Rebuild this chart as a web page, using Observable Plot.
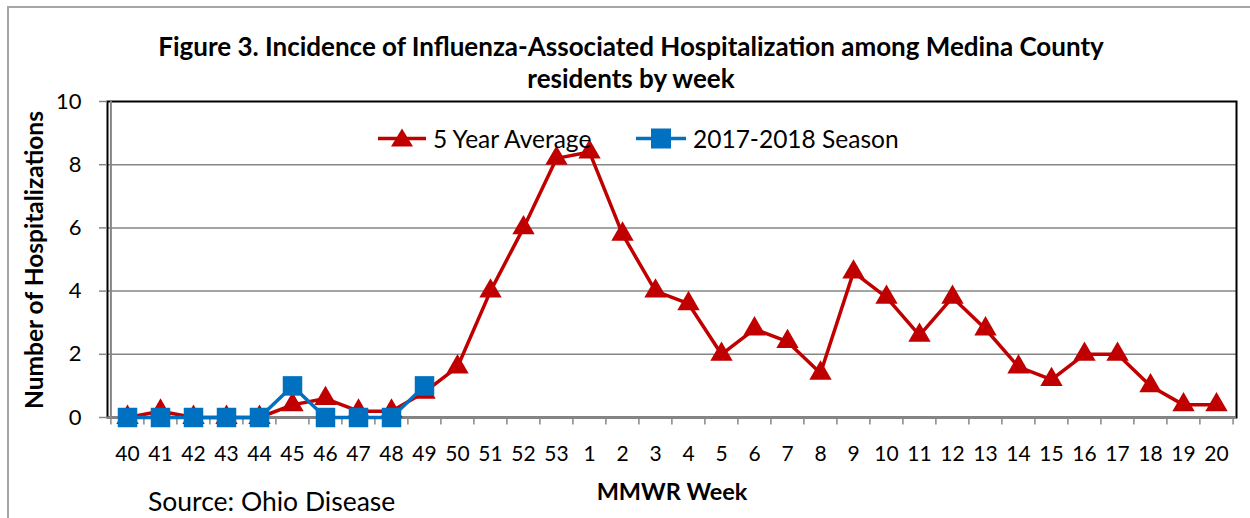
<!DOCTYPE html>
<html>
<head>
<meta charset="utf-8">
<script src="https://cdn.jsdelivr.net/npm/d3@7"></script>
<script src="https://cdn.jsdelivr.net/npm/@observablehq/plot@0.6"></script>
<style>
  html, body { margin: 0; padding: 0; background: #fff; overflow: hidden; }
  #wrap { position: relative; width: 1250px; height: 518px; font-family: Lato, "Open Sans", sans-serif; color: #000; }
  #border { position: absolute; left: 7px; top: 6px; width: 1260px; height: 530px; border: 2px solid #A6A6A6; box-sizing: border-box; }
  .lbl { position: absolute; white-space: nowrap; transform: translate(-50%, -50%); }
  #title { font-weight: 700; font-size: 26px; line-height: 32px; text-align: center; }
  #ylab { font-weight: 700; font-size: 24.5px; transform: translate(-50%, -50%) rotate(-90deg); }
  #xlab { font-weight: 700; font-size: 23.5px; }
  #source { font-size: 26.5px; transform: translate(0, -50%); }
  .leg { position: absolute; display: flex; align-items: center; font-size: 24.5px; transform: translate(0, -50%); white-space: nowrap; }
  .leg svg { margin-right: 7px; }
  #chart { position: absolute; left: 0; top: 0; }
</style>
</head>
<body>
<div id="wrap">
  <div id="border"></div>
  <div id="chart"></div>
  <div id="title" class="lbl" style="left:631px; top:62px;">Figure 3. Incidence of Influenza-Associated Hospitalization among Medina County<br>residents by week</div>
  <div id="ylab" class="lbl" style="left:33px; top:260px;">Number of Hospitalizations</div>
  <div id="xlab" class="lbl" style="left:672px; top:491px;">MMWR Week</div>
  <div id="source" class="lbl" style="left:148px; top:501px;">Source: Ohio Disease</div>
  <div class="leg" style="left:378px; top:138px;">
    <svg width="48" height="24"><line x1="0" y1="12" x2="48" y2="12" stroke="#C00000" stroke-width="3.5"/><path d="M24,2 L35,20 L13,20 Z" fill="#C00000"/></svg>
    <span>5 Year Average</span>
  </div>
  <div class="leg" style="left:636px; top:138px;">
    <svg width="50" height="24"><line x1="0" y1="12" x2="50" y2="12" stroke="#0070C0" stroke-width="3.5"/><rect x="15" y="2" width="20" height="20" fill="#0070C0"/></svg>
    <span>2017-2018 Season</span>
  </div>
</div>
<script>
// Data
const weeks = ["40","41","42","43","44","45","46","47","48","49","50","51","52","53",
  "1","2","3","4","5","6","7","8","9","10","11","12","13","14","15","16","17","18","19","20"];
const fiveYearAvg = [0, 0.2, 0, 0, 0, 0.4, 0.6, 0.2, 0.2, 0.8, 1.6, 4.0, 6.0, 8.2,
  8.4, 5.8, 4.0, 3.6, 2.0, 2.8, 2.4, 1.4, 4.6, 3.8, 2.6, 3.8, 2.8, 1.6, 1.2, 2.0, 2.0, 1.0, 0.4, 0.4];
const season2017Weeks = ["40","41","42","43","44","45","46","47","48","49"];
const season2017 = [0, 0, 0, 0, 0, 1, 0, 0, 0, 1];
const yTicks = [0, 2, 4, 6, 8, 10];
const seriesNames = ["5 Year Average", "2017-2018 Season"];

const avgData = weeks.map((w, i) => ({week: w, value: fiveYearAvg[i]}));
const seasonData = season2017Weeks.map((w, i) => ({week: w, value: season2017[i]}));

const W = 1250, H = 518, mL = 107, mR = 14, mT = 101, mB = 101;
const step = (W - mL - mR) / weeks.length;
const gray = "#868686";
const red = "#C00000", blue = "#0070C0";

const chart = Plot.plot({
  width: W, height: H,
  marginLeft: mL, marginRight: mR, marginTop: mT, marginBottom: mB,
  style: {fontFamily: "Lato, 'Open Sans', sans-serif", fontSize: "20px", color: "#000", background: "transparent"},
  x: {type: "point", domain: weeks, padding: 0.5, label: null},
  y: {domain: [0, 10], ticks: yTicks, label: null},
  marks: [
    Plot.gridY(yTicks.filter(t => t > 0 && t < 10), {stroke: gray, strokeOpacity: 1, strokeWidth: 1.5}),
    Plot.frame({stroke: "#000", strokeWidth: 2}),
    Plot.ruleY([0], {stroke: gray, strokeWidth: 2}),
    Plot.ruleX([weeks[0]], {dx: -step / 2, y1: 0, y2: 10, stroke: gray, strokeWidth: 2}),
    Plot.ruleX(weeks, {x: d => d, dx: -step / 2, y1: 0, y2: -0.24, stroke: gray, strokeWidth: 1.5}),
    Plot.ruleX([weeks[weeks.length - 1]], {dx: step / 2, y1: 0, y2: -0.24, stroke: gray, strokeWidth: 1.5}),
    Plot.axisY({ticks: yTicks, tickSize: 8, tickPadding: 18, stroke: gray, strokeWidth: 1.5, fontSize: 22, label: null}),
    Plot.axisX({tickSize: 0, tickPadding: 29, fontSize: 21, label: null}),
    Plot.line(avgData, {x: "week", y: "value", stroke: red, strokeWidth: 3.5}),
    Plot.dot(avgData, {x: "week", y: "value", symbol: "triangle", r: 8.3, fill: red, stroke: "none"}),
    Plot.line(seasonData, {x: "week", y: "value", stroke: blue, strokeWidth: 3.5}),
    Plot.dot(seasonData, {x: "week", y: "value", symbol: "square", r: 11, fill: blue, stroke: "none"})
  ]
});
document.getElementById("chart").appendChild(chart);
</script>
</body>
</html>
